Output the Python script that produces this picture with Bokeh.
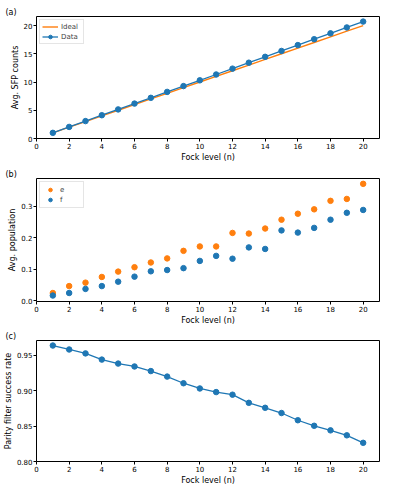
from bokeh.plotting import figure
from bokeh.layouts import column
from bokeh.models import Range1d, FixedTicker, NumeralTickFormatter
from bokeh.embed import file_html
from bokeh.resources import INLINE

# ---- data ----
fock = list(range(1, 21))
ideal_counts = [float(n) for n in fock]
sfp_counts = [1.0, 2.05, 3.08, 4.12, 5.15, 6.18, 7.2, 8.25, 9.28, 10.3,
              11.33, 12.37, 13.42, 14.46, 15.5, 16.54, 17.58, 18.62, 19.66, 20.7]
pop_e = [0.024, 0.046, 0.057, 0.075, 0.092, 0.106, 0.121, 0.134, 0.158, 0.172,
         0.172, 0.215, 0.213, 0.229, 0.257, 0.276, 0.290, 0.317, 0.323, 0.371]
pop_f = [0.016, 0.024, 0.037, 0.046, 0.060, 0.076, 0.093, 0.097, 0.103, 0.126,
         0.142, 0.133, 0.169, 0.164, 0.223, 0.216, 0.231, 0.257, 0.279, 0.288]
parity_rate = [0.9639, 0.9583, 0.9528, 0.9440, 0.9384, 0.9343, 0.9278, 0.9200,
               0.9106, 0.9032, 0.8981, 0.8944, 0.8829, 0.8759, 0.8685, 0.8583,
               0.8505, 0.8440, 0.8370, 0.8264]
x_ticks = [0, 2, 4, 6, 8, 10, 12, 14, 16, 18, 20]
a_ticks = [0, 5, 10, 15, 20]
b_ticks = [0.0, 0.1, 0.2, 0.3]
c_ticks = [0.80, 0.85, 0.90, 0.95]

BLUE = "#1f77b4"
ORANGE = "#ff7f0e"
FONT = "DejaVu Sans"
LEFT = 32


def make(top, frame_h, bottom, yr, ylabel, yticks, fmt, tag):
    p = figure(width=381, height=top + frame_h + bottom,
               x_range=Range1d(0, 21), y_range=Range1d(*yr),
               output_backend="svg", toolbar_location=None,
               min_border_left=LEFT, min_border_right=2,
               min_border_top=top, min_border_bottom=bottom)
    p.title.text = tag
    p.title.align = "left"
    p.title.offset = -(LEFT - 1)
    p.title.standoff = 0
    p.title.text_font = FONT
    p.title.text_font_size = "8px"
    p.title.text_font_style = "normal"
    p.title.text_color = "black"
    p.outline_line_color = "black"
    p.outline_line_width = 1
    p.xgrid.visible = False
    p.ygrid.visible = False
    p.xaxis.ticker = FixedTicker(ticks=x_ticks)
    p.yaxis.ticker = FixedTicker(ticks=yticks)
    if fmt:
        p.yaxis.formatter = NumeralTickFormatter(format=fmt)
    p.xaxis.axis_label = "Fock level (n)"
    p.yaxis.axis_label = ylabel
    for ax in (p.xaxis[0], p.yaxis[0]):
        ax.axis_line_color = None
        ax.major_tick_out = 3
        ax.major_tick_in = 0
        ax.minor_tick_out = 0
        ax.minor_tick_in = 0
        ax.major_tick_line_color = "black"
        ax.major_label_text_font_size = "7px"
        ax.major_label_text_font = FONT
        ax.major_label_text_color = "black"
        ax.major_label_standoff = 1
        ax.axis_label_text_font_size = "8px"
        ax.axis_label_text_font_style = "normal"
        ax.axis_label_text_font = FONT
        ax.axis_label_text_color = "black"
        ax.axis_label_standoff = 1
    return p


def style_legend(p, gw, pad):
    lg = p.legend[0]
    lg.location = "top_left"
    lg.margin = 3
    lg.padding = pad
    lg.spacing = 1
    lg.label_text_font_size = "7px"
    lg.label_text_font = FONT
    lg.label_height = 9
    lg.glyph_height = 9
    lg.glyph_width = gw
    lg.label_standoff = 3
    lg.border_line_color = "#cccccc"
    lg.border_line_width = 1
    lg.background_fill_alpha = 0.8


# (a)
pa = make(16, 123, 25, (0, 21.6), "Avg. SFP counts", a_ticks, None, "(a)")
pa.line(fock, ideal_counts, color=ORANGE, line_width=1.4, legend_label="Ideal")
pa.line(fock, sfp_counts, color=BLUE, line_width=1.3, legend_label="Data")
pa.scatter(fock, sfp_counts, color=BLUE, size=5.5, legend_label="Data")
style_legend(pa, 16, 2)

# (b)
pb = make(14, 124, 25, (-0.003, 0.388), "Avg. population", b_ticks, "0.0", "(b)")
pb.scatter(fock, pop_e, color=ORANGE, size=5.5, legend_label="e")
pb.scatter(fock, pop_f, color=BLUE, size=5.5, legend_label="f")
style_legend(pb, 14, 3)

# (c)
pc = make(13, 123, 24, (0.80, 0.971), "Parity filter success rate", c_ticks, "0.00", "(c)")
pc.line(fock, parity_rate, color=BLUE, line_width=1.3)
pc.scatter(fock, parity_rate, color=BLUE, size=5.5)

layout = column(pa, pb, pc, spacing=0)
open("out.html", "w").write(file_html(layout, INLINE))
